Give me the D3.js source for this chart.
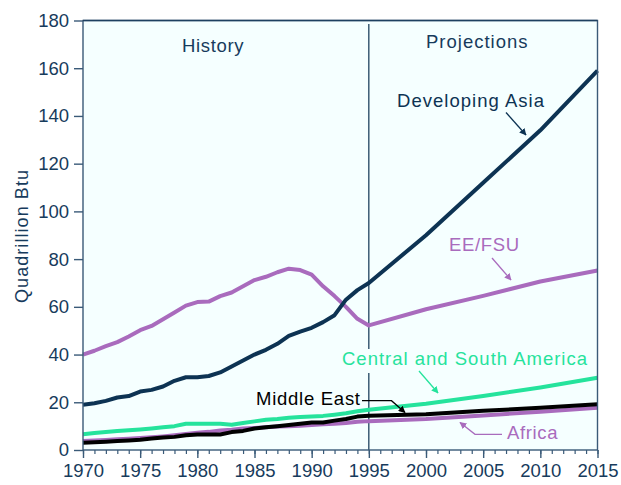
<!DOCTYPE html>
<html><head><meta charset="utf-8">
<script src="https://cdn.jsdelivr.net/npm/d3@7"></script>
<style>body{margin:0;background:#fff}svg{display:block}text{font-family:"Liberation Sans",Arial,sans-serif}</style>
</head><body>
<svg id="c" width="621" height="485"></svg>
<script>
const years = [1970,1971,1972,1973,1974,1975,1976,1977,1978,1979,1980,1981,1982,1983,1984,1985,1986,1987,1988,1989,1990,1991,1992,1993,1994,1995,2000,2005,2010,2015];
const developingAsia = [19,19.6,20.6,22,22.6,24.5,25.2,26.6,29,30.5,30.5,31,32.5,35,37.5,40,42,44.5,47.8,49.6,51.2,53.6,56.5,63,67,70,90,112,134,159];
const eeFsu = [40,41.6,43.5,45.2,47.6,50.2,52,54.8,57.6,60.5,62,62.2,64.5,66,68.6,71.2,72.6,74.5,76,75.4,73.5,68.6,64.5,60,55,52.2,59,64.6,70.6,75.2];
const csAmerica = [6.6,7.1,7.5,8,8.3,8.6,9,9.5,10,11,11,11,11,10.6,11.3,12,12.7,13,13.5,13.8,14,14.3,14.8,15.4,16.2,16.9,19.4,22.6,26.2,30.3];
const middleEast = [3,3.2,3.5,3.8,4,4.3,4.8,5.2,5.5,6.2,6.5,6.5,6.5,7.5,8,9,9.5,10,10.5,11,11.5,11.5,12.3,13,14,14.4,15,16.4,17.7,19.2];
const africa = [3.8,4,4.2,4.5,4.7,5,5.3,5.7,6.2,6.7,7.2,7.6,8.2,8.5,9,9.2,9.5,9.8,10,10.2,10.5,10.8,11,11.3,11.8,12.1,13,14.5,16,17.7];
const yTicks = [0,20,40,60,80,100,120,140,160,180];
const xTicks = [1970,1975,1980,1985,1990,1995,2000,2005,2010,2015];

const navy = "#0d3353", purple = "#a96bbd", green = "#25e39c", black = "#000000", axisC = "#3a5a78", textC = "#173b5c";
const svg = d3.select("#c");
const L = 83, R = 597.5, T = 20.5, B = 450;
const x = d3.scaleLinear().domain([1970,2015]).range([L,R]);
const y = d3.scaleLinear().domain([0,180]).range([B,T]);

svg.append("rect").attr("x",L).attr("y",T).attr("width",R-L).attr("height",B-T).attr("fill","#f5ffff");

// markers
const defs = svg.append("defs");
function marker(id,color){
  defs.append("marker").attr("id",id).attr("viewBox","0 0 10 10").attr("refX",9).attr("refY",5)
    .attr("markerWidth",7).attr("markerHeight",7).attr("markerUnits","userSpaceOnUse").attr("orient","auto")
    .append("path").attr("d","M0,0L10,5L0,10z").attr("fill",color);
}
marker("mNavy",navy); marker("mPurple",purple); marker("mGreen",green); marker("mBlack",black);

// 1995 divider
svg.append("line").attr("x1",x(1995)).attr("x2",x(1995)).attr("y1",24).attr("y2",B).attr("stroke",navy).attr("stroke-width",1.2);

// series
const line = d3.line().x((d,i)=>x(years[i])).y(d=>y(d));
[[africa,purple],[middleEast,black],[csAmerica,green],[eeFsu,purple],[developingAsia,navy]].forEach(([s,c])=>{
  svg.append("path").attr("d",line(s)).attr("fill","none").attr("stroke",c).attr("stroke-width",4).attr("stroke-linejoin","round");
});

// axes
const xAxisMinor = d3.axisBottom(x).tickValues(d3.range(1970,2016)).tickSize(4).tickFormat("");
svg.append("g").attr("transform",`translate(0,${B})`).call(xAxisMinor).call(g=>{g.select(".domain").remove();g.selectAll("line").attr("stroke",axisC).attr("stroke-width",1.2);});
const xAxis = d3.axisBottom(x).tickValues(xTicks).tickSize(8).tickPadding(4).tickFormat(d3.format("d"));
svg.append("g").attr("transform",`translate(0,${B})`).call(xAxis).call(g=>{
  g.select(".domain").remove();
  g.selectAll("line").attr("stroke",axisC).attr("stroke-width",1.4);
  g.selectAll("text").attr("fill",textC).attr("font-size",18.5).attr("font-family","Liberation Sans, Arial, sans-serif").attr("dy","0.71em").attr("y",14);
});
const yAxis = d3.axisLeft(y).tickValues(yTicks).tickSize(9).tickPadding(5);
svg.append("g").attr("transform",`translate(${L},0)`).call(yAxis).call(g=>{
  g.select(".domain").remove();
  g.selectAll("line").attr("stroke",axisC).attr("stroke-width",1.4);
  g.selectAll("text").attr("fill",textC).attr("font-size",18.5).attr("font-family","Liberation Sans, Arial, sans-serif");
});
// frame
svg.append("rect").attr("x",L).attr("y",T).attr("width",R-L).attr("height",B-T).attr("fill","none").attr("stroke",axisC).attr("stroke-width",1.4);
svg.append("line").attr("x1",L).attr("x2",R).attr("y1",T).attr("y2",T).attr("stroke","#1e4060").attr("stroke-width",1.6);

// y title
svg.append("text").attr("transform","translate(28,236.5) rotate(-90)").attr("text-anchor","middle")
  .attr("font-size",18).attr("fill",textC).attr("textLength",133).attr("lengthAdjust","spacing").text("Quadrillion Btu");

function label(t,x0,w,yb,color){
  return svg.append("text").attr("x",x0).attr("y",yb).attr("font-size",18.5).attr("fill",color)
    .attr("textLength",w).attr("lengthAdjust","spacing").text(t);
}
label("History",182,61.5,52.3,textC);
label("Projections",426,101.5,48.3,textC);
label("Developing Asia",397,147,107,navy);
label("EE/FSU",449,70,251,purple);
// background behind CSA label (breaks the divider)
svg.append("rect").attr("x",340).attr("y",349).attr("width",250).attr("height",24).attr("fill","#f5ffff");
label("Central and South America",342,245,365,green);
label("Middle East",256,104,405,black);
label("Africa",507,50.5,439.3,purple);

// arrows
function arrow(pts,color,m){
  svg.append("path").attr("d",d3.line()(pts)).attr("fill","none").attr("stroke",color).attr("stroke-width",1.3).attr("marker-end",`url(#${m})`);
}
arrow([[506,112.5],[526,135]],navy,"mNavy");
arrow([[492,258],[511,280]],purple,"mPurple");
arrow([[419,371],[438,393]],green,"mGreen");
arrow([[362,400.7],[391.5,400.7],[405,412.5]],black,"mBlack");
arrow([[502,434.3],[475,434.3],[460,422.5]],purple,"mPurple");
</script>
</body></html>
